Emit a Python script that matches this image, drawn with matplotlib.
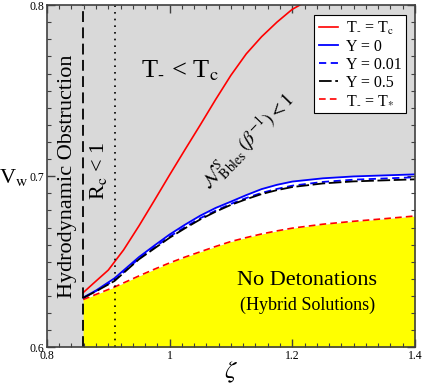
import matplotlib
matplotlib.use("Agg")
import matplotlib.pyplot as plt
from matplotlib.ticker import MultipleLocator, FixedLocator, FixedFormatter

plt.rcParams['font.family'] = ['Liberation Serif', 'DejaVu Serif']
plt.rcParams['mathtext.fontset'] = 'stix'

# ---- data ----
zeta = [0.859, 0.88, 0.91, 0.95, 0.975, 1.0, 1.025, 1.05, 1.075, 1.1, 1.125, 1.15,
        1.175, 1.2, 1.25, 1.3, 1.35, 1.4]
vw_y0 = [0.6291, 0.6333, 0.6404, 0.6528, 0.6595, 0.6660, 0.6717, 0.6770, 0.6815, 0.6852,
         0.6890, 0.6925, 0.6950, 0.6969, 0.6988, 0.6999, 0.7005, 0.7011]
vw_y001 = [0.6290, 0.6330, 0.6392, 0.6520, 0.6584, 0.6648, 0.6703, 0.6755, 0.6799, 0.6839,
           0.6873, 0.6903, 0.6926, 0.6945, 0.6967, 0.6980, 0.6987, 0.6994]
vw_y05 = [0.6289, 0.6328, 0.6388, 0.6515, 0.6578, 0.6641, 0.6696, 0.6748, 0.6793, 0.6833,
          0.6866, 0.6896, 0.6919, 0.6937, 0.6958, 0.6970, 0.6976, 0.6982]
vw_tstar = [0.6280, 0.6310, 0.6353, 0.6418, 0.6457, 0.6494, 0.6528, 0.6559, 0.6590, 0.6619,
            0.6642, 0.6663, 0.6681, 0.6697, 0.6720, 0.6737, 0.6752, 0.6768]

zeta_tc = [0.859, 0.875, 0.9, 0.925, 0.95, 0.975, 1.0, 1.025, 1.05, 1.075, 1.1, 1.125,
           1.15, 1.175, 1.2, 1.225]
vw_tc = [0.6320, 0.6372, 0.6452, 0.6570, 0.6710, 0.6858, 0.7008, 0.7155, 0.7300, 0.7448,
         0.7590, 0.7715, 0.7815, 0.7900, 0.7975, 0.8025]

zeta_obstruction = 0.859   # dashed vertical line
zeta_rc = 0.911            # dotted vertical line

xticks = [0.8, 1.0, 1.2, 1.4]
xticklabels = ['0.8', '1', '1.2', '1.4']
yticks = [0.6, 0.7, 0.8]
yticklabels = ['0.6', '0.7', '0.8']

gray = '#d9d9d9'
edge = '#404040'
hy = '\u2010'  # small hyphen used as subscript

fig = plt.figure(figsize=(4.23, 3.88), dpi=100)
ax = fig.add_axes([0.111, 0.1044, 0.870, 0.8827])
ax.set_facecolor(gray)
ax.set_xlim(0.8, 1.4)
ax.set_ylim(0.6, 0.8)

# regions
ax.fill_between(zeta, 0.6, vw_tstar, color='#ffff00', lw=0, zorder=1)
ax.fill_between(zeta, vw_tstar, vw_y0, color='white', lw=0, zorder=1)

# curves
ax.plot(zeta_tc, vw_tc, color='red', lw=1.2, label='T$_{' + hy + '}$ = T$_{\\rm c}$', zorder=4)
ax.plot(zeta, vw_y0, color='blue', lw=1.3, label='Y = 0', zorder=3)
ax.plot(zeta, vw_y001, color='blue', lw=1.3, dashes=(4, 2.5), label='Y = 0.01', zorder=4)
ax.plot(zeta, vw_y05, color='black', lw=1.3, dashes=(7, 2), label='Y = 0.5', zorder=5)
ax.plot(zeta, vw_tstar, color='red', lw=1.2, dashes=(4, 2.5),
        label='T$_{' + hy + '}$ = T$_{*}$', zorder=4)

ax.axvline(zeta_obstruction, color='black', lw=1.3, dashes=(6, 3), zorder=6)
ax.axvline(zeta_rc, color='black', lw=1.2, dashes=(1, 3), zorder=6)

# annotations
ax.text(0.8327, 0.7002, 'Hydrodynamic Obstruction', rotation=90, fontsize=16,
        ha='center', va='center', zorder=7)
ax.text(0.8834, 0.7031, r'R$_{\rm c}$ < 1', rotation=90, fontsize=16,
        ha='center', va='center', zorder=7)
ax.text(1.017, 0.7615, 'T$_{' + hy + '}$ < T$_{\\rm c}$', fontsize=19,
        ha='center', va='center', zorder=7)
ax.text(1.1286, 0.7200, r'$\mathcal{N}^{\,S}_{\rm Bbles}\,(\beta^{-1}) < 1$', rotation=46,
        fontsize=14, ha='center', va='center', zorder=7)
ax.text(1.2234, 0.6394, 'No Detonations', fontsize=16, ha='center', va='center', zorder=7)
ax.text(1.225, 0.6248, '(Hybrid Solutions)', fontsize=13, ha='center', va='center', zorder=7)

# axes styling
ax.xaxis.set_major_locator(FixedLocator(xticks))
ax.xaxis.set_major_formatter(FixedFormatter(xticklabels))
ax.yaxis.set_major_locator(FixedLocator(yticks))
ax.yaxis.set_major_formatter(FixedFormatter(yticklabels))
ax.xaxis.set_minor_locator(MultipleLocator(0.02))
ax.yaxis.set_minor_locator(MultipleLocator(0.01))
ax.tick_params(which='both', direction='in', top=True, right=True, color=edge, labelsize=8.5)
ax.tick_params(which='major', length=6, width=1, pad=2)
ax.tick_params(which='minor', length=3, width=0.8)
for s in ax.spines.values():
    s.set_color(edge)
    s.set_linewidth(1.2)
    s.set_zorder(10)

ax.set_xlabel(r'$\zeta$', fontsize=18)
ax.xaxis.set_label_coords(0.5, -0.035)
ax.set_ylabel(r'V$_{\rm w}$', fontsize=16, rotation=0, va='center', ha='center')
ax.yaxis.set_label_coords(-0.09, 0.495)

leg = ax.legend(loc='upper right', bbox_to_anchor=(0.977, 0.971), borderaxespad=0,
                fontsize=11.5, handlelength=1.2, handletextpad=0.5, labelspacing=0.12,
                borderpad=0.3, fancybox=False, framealpha=1, edgecolor='black')
leg.get_frame().set_linewidth(0.8)
leg.set_zorder(20)

fig.savefig('out.png', dpi=100)
